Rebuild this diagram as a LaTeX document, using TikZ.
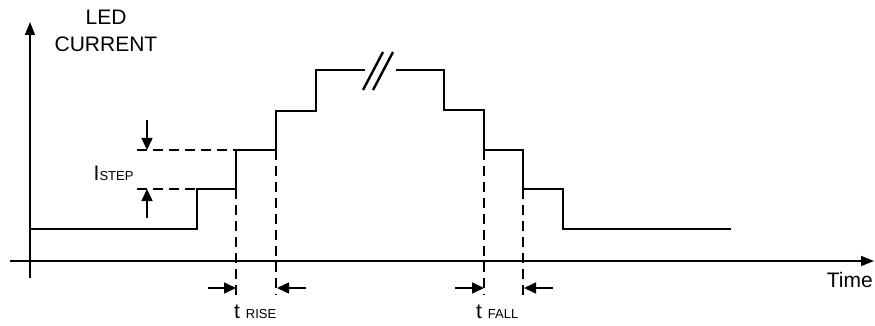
\documentclass[tikz,border=0pt]{standalone}
\usepackage{fontspec}
\setmainfont{Liberation Sans}
\usetikzlibrary{arrows.meta}
\tikzset{wave/.style={line width=2.4pt}, axis/.style={line width=1.5pt, -{Triangle[length=13pt,width=10pt]}}, guide/.style={line width=2.2pt, dash pattern=on 10pt off 6pt}, dim/.style={line width=1.5pt, -{Triangle[length=12pt,width=11pt]}}, lbl/.style={inner sep=0pt, font=\fontsize{21}{27}\selectfont}}
\newcommand{\sublbl}[1]{{\fontsize{13}{13}\selectfont #1}}

\begin{document}
\begin{tikzpicture}[x=1pt,y=-1pt]
	\useasboundingbox (0,0) rectangle (875,326);
	% axes
	\draw [axis] (30,278) -- (30,22);
	\draw [axis] (10,261) -- (874,261);
	\node [lbl,align=center,anchor=base] (ylabel) at (106,52) {LED\\CURRENT};
	\node [lbl,anchor=base east] (xlabel) at (873,287) {Time};
	
	% current steps
	\draw [wave] (30,229) -| (197,189) -| (236,150) -| (276,111) -| (316,70) -- (365,70);
	\draw [wave] (396,70) -| (444,110) -| (484,150) -| (523,189) -| (563,229) -- (731,229);
	% break
	\draw [wave] (363,90) -- (383,52);
	\draw [wave] (373,90) -- (393,52);
	
	% step height
	\draw [guide] (137,150) -- (236,150);
	\draw [guide] (137,189) -- (197,189);
	\draw [dim] (147,120) -- (147,150);
	\draw [dim] (147,218) -- (147,189);
	\node [lbl,anchor=base west] (istep) at (93.5,180) {I\sublbl{STEP}};
	
	% rise time
	\draw [guide] (236,189) -- (236,295);
	\draw [guide] (276,150) -- (276,295);
	\draw [dim] (208,288) -- (236,288);
	\draw [dim] (306,288) -- (277,288);
	\node [lbl,anchor=base west] (trise) at (234,318) {t \sublbl{RISE}};
	
	% fall time
	\draw [guide] (484,150) -- (484,295);
	\draw [guide] (523,189) -- (523,295);
	\draw [dim] (455,288) -- (484,288);
	\draw [dim] (553,288) -- (524,288);
	\node [lbl,anchor=base west] (tfall) at (476,318) {t \sublbl{FALL}};
\end{tikzpicture}
\end{document}
